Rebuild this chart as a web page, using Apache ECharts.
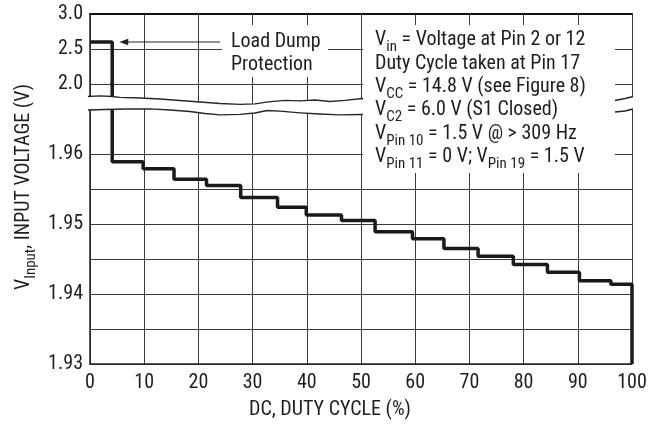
<!DOCTYPE html>
<html><head><meta charset="utf-8">
<script src="https://cdn.jsdelivr.net/npm/echarts/dist/echarts.min.js"></script>
<style>html,body{margin:0;padding:0;background:#fff}#c{width:661px;height:430px}</style>
</head><body><div id="c"></div>
<script>
// ---- data ----
const dutyCycle    = [0, 4.1, 9.8, 15.5, 21.5, 27.8, 34.6, 39.9, 46.4, 52.6, 59.5, 65.3, 71.6, 78.1, 84.4, 90.3, 96.1, 100];
const inputVoltage = [2.6, 1.9589, 1.9579, 1.9564, 1.9555, 1.9538, 1.9524, 1.9513, 1.9505, 1.9489, 1.9479, 1.9465, 1.9454, 1.9442, 1.9431, 1.9419, 1.9414, 1.93];
const xTickLabels  = ['0','10','20','30','40','50','60','70','80','90','100'];
const upperTickLabels = ['2.0','2.5','3.0'];
const lowerTickLabels = ['1.93','1.94','1.95','1.96'];
const arrowFrom = 24, arrowTo = 5.4;   // annotation arrow (duty cycle values)

// ---- styling ----
const FONT = '"Liberation Sans Narrow", "Arial Narrow", "Roboto Condensed", "DejaVu Sans Condensed", sans-serif';
const TXT = '#1e1e1e', GRID = '#3a3a3a', LINE = '#1a1a1a';

const pts = dutyCycle.map((x, i) => [x, inputVoltage[i]]);
const upperPts = pts.slice(0, 2);

const lowerSplitColors = Array.from({length: 9}, (_, i) => i <= 6 ? GRID : 'rgba(0,0,0,0)');

const upperBreak = [[88,96.5],[100,95.8],[112,96.5],[120,97.3],[140,98],[160,99],[180,100.5],[200,102],[220,103.5],[240,104.3],[255,103.8],[268,101.8],[285,100.3],[300,100.8],[315,100],[330,101.5],[345,100.3],[362,98.5],[400,99],[600,100],[615,100.5],[625,98.5],[633,96.5]];
const lowerBreak = [[88,110],[105,109.5],[125,109],[150,108.8],[170,110],[190,111.5],[205,113.5],[220,114.8],[240,114.3],[255,113],[267,110.5],[280,111.2],[300,112.8],[320,114],[340,114.8],[362,114.5],[600,112],[615,112],[625,111],[633,109]];

const chart = echarts.init(document.getElementById('c'), null, {renderer: 'canvas'});
const lbl = {fontSize: 20, fontFamily: FONT, color: TXT};
const option = {
  animation: false,
  backgroundColor: '#fff',
  grid: [
    {left: 90, right: 29, top: 14, height: 70, outerBoundsMode: 'none', containLabel: false},
    {left: 90, right: 29, top: 84, bottom: 66, outerBoundsMode: 'none', containLabel: false}
  ],
  xAxis: [
    {gridIndex: 0, type: 'value', min: 0, max: 100, interval: 10, position: 'top',
     axisLine: {show: true, onZero: false, lineStyle: {color: '#111', width: 2}},
     axisTick: {show: false}, axisLabel: {show: false},
     splitLine: {show: true, lineStyle: {color: GRID, width: 1}}},
    {gridIndex: 1, type: 'value', min: 0, max: 100, interval: 10, position: 'bottom',
     axisLine: {show: true, onZero: false, lineStyle: {color: '#222', width: 1.5}},
     axisTick: {show: false},
     axisLabel: Object.assign({margin: 9, formatter: (v) => xTickLabels[Math.round(v / 10)] || ''}, lbl),
     splitLine: {show: true, lineStyle: {color: GRID, width: 1}}}
  ],
  yAxis: [
    {gridIndex: 0, type: 'value', min: 2.0, max: 3.0, interval: 0.5,
     axisLine: {show: true, onZero: false, lineStyle: {color: '#222', width: 1.5}},
     axisTick: {show: false},
     axisLabel: Object.assign({margin: 7, formatter: (v) => upperTickLabels[Math.round((v - 2) * 2)] || ''}, lbl),
     splitLine: {show: true, lineStyle: {color: GRID, width: 1}}},
    {gridIndex: 1, type: 'value', min: 1.93, max: 1.97, interval: 0.005,
     axisLine: {show: true, onZero: false, lineStyle: {color: '#222', width: 1.5}},
     axisTick: {show: false},
     axisLabel: Object.assign({margin: 7, formatter: (v) => {
        const k = Math.round(v * 1000);
        return (k % 10 === 0) ? (lowerTickLabels[(k - 1930) / 10] || '') : '';
     }}, lbl),
     splitLine: {show: true, lineStyle: {color: lowerSplitColors, width: 1}}}
  ],
  series: [
    {type: 'line', xAxisIndex: 0, yAxisIndex: 0, data: upperPts, step: 'end', showSymbol: false, symbol: 'none',
     clip: true, lineStyle: {color: LINE, width: 3.5}, silent: true, z: 5},
    {type: 'line', xAxisIndex: 1, yAxisIndex: 1, data: pts, step: 'end', showSymbol: false, symbol: 'none',
     clip: true, lineStyle: {color: LINE, width: 3.5}, silent: true, z: 5}
  ],
  graphic: [
    {type: 'polygon', z: 100, shape: {points: upperBreak.concat(lowerBreak.slice().reverse())}, style: {fill: '#fff', stroke: null}},
    {type: 'polyline', z: 101, shape: {points: upperBreak}, style: {stroke: '#262626', lineWidth: 1.3, fill: null}},
    {type: 'polyline', z: 101, shape: {points: lowerBreak}, style: {stroke: '#262626', lineWidth: 1.3, fill: null}},
    {type: 'rect', z: 102, shape: {x: 363, y: 25, width: 252, height: 148}, style: {fill: '#fff'}},
    {type: 'text', z: 103, x: 375, y: 28.5, style: {
      text: '{m|V}{s|in}{m| = Voltage at Pin 2 or 12}\n{m|Duty Cycle taken at Pin 17}\n{m|V}{s|CC}{m| = 14.8 V (see Figure 8)}\n{m|V}{s|C2}{m| = 6.0 V (S1 Closed)}\n{m|V}{s|Pin 10}{m| = 1.5 V @ > 309 Hz}\n{m|V}{s|Pin 11}{m| = 0 V; V}{s|Pin 19}{m| = 1.5 V}',
      align: 'left', verticalAlign: 'top', fill: TXT,
      rich: {m: {fontSize: 20, fontFamily: FONT, lineHeight: 23.4, fill: TXT},
             s: {fontSize: 15, fontFamily: FONT, lineHeight: 12, padding: [11.4, 0, 0, 0], verticalAlign: 'top', fill: TXT}}}},
    {type: 'rect', z: 102, shape: {x: 222, y: 25, width: 106, height: 52}, style: {fill: '#fff'}},
    {type: 'text', z: 103, x: 231, y: 30, style: {text: 'Load Dump\nProtection', align: 'left', verticalAlign: 'top',
      font: '20px ' + FONT, lineHeight: 23.3, fill: TXT}},
    {type: 'text', z: 103, x: 330, y: 410, style: {text: 'DC, DUTY CYCLE (%)', align: 'center', verticalAlign: 'middle',
      font: '20px ' + FONT, fill: TXT}},
    {type: 'text', z: 103, x: 24, y: 187, rotation: Math.PI / 2, style: {
      text: '{m|V}{s|Input}{m|, INPUT VOLTAGE (V)}', align: 'center', verticalAlign: 'middle', fill: TXT,
      rich: {m: {fontSize: 20, fontFamily: FONT, lineHeight: 24, fill: TXT},
             s: {fontSize: 15, fontFamily: FONT, lineHeight: 12, padding: [12, 0, 0, 0], verticalAlign: 'top', fill: TXT}}}}
  ]
};
chart.setOption(option);

// annotation arrow placed through the upper grid's scales
const a0 = chart.convertToPixel({gridIndex: 0}, [arrowFrom, inputVoltage[0]]);
const a1 = chart.convertToPixel({gridIndex: 0}, [arrowTo, inputVoltage[0]]);
const headLen = 9, headHalf = 3.2;
option.graphic.push(
  {type: 'line', z: 104, shape: {x1: a0[0], y1: a0[1], x2: a1[0] + headLen - 1, y2: a1[1]}, style: {stroke: '#222', lineWidth: 1.2}},
  {type: 'polygon', z: 104, shape: {points: [[a1[0], a1[1]], [a1[0] + headLen, a1[1] - headHalf], [a1[0] + headLen, a1[1] + headHalf]]}, style: {fill: '#222'}}
);
chart.setOption({graphic: option.graphic});
</script>
</body></html>
